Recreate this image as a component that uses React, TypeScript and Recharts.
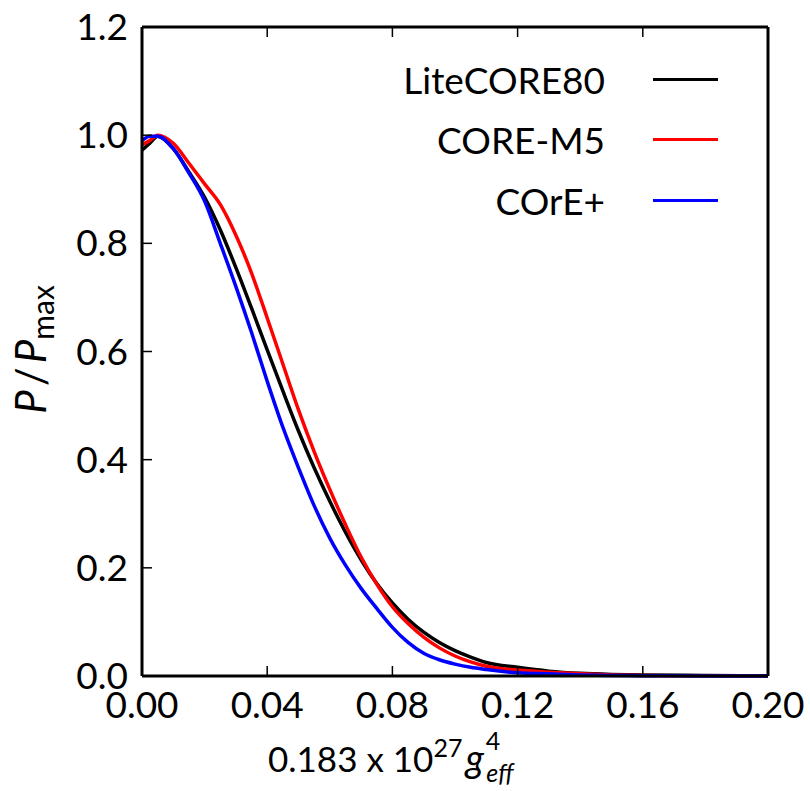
import { LineChart, Line, XAxis, YAxis, Legend, Label } from "recharts";

const xValues = [
  0, 0.0025, 0.005, 0.01, 0.015, 0.02, 0.025, 0.03, 0.035, 0.04, 0.045, 0.05,
  0.055, 0.06, 0.065, 0.07, 0.075, 0.08, 0.085, 0.09, 0.095, 0.1, 0.105, 0.11,
  0.12, 0.13, 0.14, 0.15, 0.16, 0.18, 0.2,
];

const liteCore80 = [
  0.972, 0.985, 0.998, 0.975, 0.932, 0.885, 0.825, 0.755, 0.68, 0.603, 0.527,
  0.453, 0.385, 0.323, 0.266, 0.215, 0.171, 0.135, 0.105, 0.081, 0.062, 0.047,
  0.035, 0.025, 0.016, 0.009, 0.005, 0.003, 0.002, 0.001, 0.0005,
];

const coreM5 = [
  0.982, 0.99, 1.0, 0.985, 0.948, 0.91, 0.872, 0.815, 0.745, 0.662, 0.577,
  0.492, 0.415, 0.345, 0.28, 0.22, 0.17, 0.128, 0.097, 0.072, 0.052, 0.037,
  0.026, 0.018, 0.011, 0.007, 0.004, 0.002, 0.001, 0.0005, 0.0002,
];

const corePlus = [
  0.99, 0.998, 0.998, 0.975, 0.93, 0.878, 0.8, 0.72, 0.635, 0.545, 0.46, 0.385,
  0.315, 0.255, 0.205, 0.162, 0.125, 0.09, 0.062, 0.042, 0.03, 0.022, 0.016,
  0.012, 0.006, 0.004, 0.002, 0.001, 0.0005, 0.0002, 0,
];

const seriesNames = ["LiteCORE80", "CORE-M5", "COrE+"];
const xTicks = [0, 0.04, 0.08, 0.12, 0.16, 0.2];
const yTicks = [0, 0.2, 0.4, 0.6, 0.8, 1.0, 1.2];

const data = xValues.map((x, i) => ({
  x,
  lite: liteCore80[i],
  m5: coreM5[i],
  plus: corePlus[i],
}));

const FONT = "Lato, 'DejaVu Sans', sans-serif";
const TICK_LEN = 10;
const spine = { stroke: "#000", strokeWidth: 3 };

const BottomTick = (props: any) => {
  const { x, y, payload } = props;
  return (
    <g>
      <line x1={x} x2={x} y1={y} y2={y - TICK_LEN} stroke="#000" strokeWidth={1.5} />
      <text x={x} y={y + 42} textAnchor="middle" fontFamily={FONT} fontSize={37} fill="#000">
        {Number(payload.value).toFixed(2)}
      </text>
    </g>
  );
};

const TopTick = (props: any) => {
  const { x, y } = props;
  return <line x1={x} x2={x} y1={y} y2={y + TICK_LEN} stroke="#000" strokeWidth={1.5} />;
};

const LeftTick = (props: any) => {
  const { x, y, payload } = props;
  return (
    <g>
      <line x1={x} x2={x + TICK_LEN} y1={y} y2={y} stroke="#000" strokeWidth={1.5} />
      <text x={x - 14} y={y + 13} textAnchor="end" fontFamily={FONT} fontSize={37} fill="#000">
        {Number(payload.value).toFixed(1)}
      </text>
    </g>
  );
};

const RightTick = (props: any) => {
  const { x, y } = props;
  return <line x1={x} x2={x - TICK_LEN} y1={y} y2={y} stroke="#000" strokeWidth={1.5} />;
};

const XTitle = (props: any) => {
  const vb = props.viewBox || { x: 142, y: 676 };
  return (
    <text x={vb.x + 126} y={vb.y + 96} fontFamily={FONT} fontSize={35} fill="#000">
      <tspan>0.183 x 10</tspan>
      <tspan dy={-15} fontSize={25}>27</tspan>
      <tspan dy={15} dx={3} fontSize={38} fontStyle="italic">g</tspan>
      <tspan dy={-22} dx={2} fontSize={25}>4</tspan>
      <tspan dy={32} dx={-14} fontSize={25} fontStyle="italic">eff</tspan>
    </text>
  );
};

const YTitle = (props: any) => {
  const vb = props.viewBox || { x: 0, y: 27, width: 142, height: 649 };
  const cx = 46;
  const cy = vb.y + vb.height / 2 - 2;
  return (
    <text
      x={cx}
      y={cy}
      transform={`rotate(-90, ${cx}, ${cy})`}
      textAnchor="middle"
      fontFamily={FONT}
      fontSize={42}
      fill="#000"
    >
      <tspan fontStyle="italic">P</tspan>
      <tspan dx={4}>/</tspan>
      <tspan dx={4} fontStyle="italic">P</tspan>
      <tspan dy={8} fontSize={30}>max</tspan>
    </text>
  );
};

const renderLegend = (props: any) => {
  const items = [...(props.payload || [])].sort(
    (a: any, b: any) => seriesNames.indexOf(a.value) - seriesNames.indexOf(b.value)
  );
  return (
    <div>
      {items.map((entry: any) => (
        <div
          key={entry.value}
          style={{ display: "flex", alignItems: "center", height: 60.5 }}
        >
          <span
            style={{
              width: 235,
              textAlign: "right",
              fontFamily: FONT,
              fontSize: 37,
              lineHeight: "37px",
              color: "#000",
              whiteSpace: "nowrap",
            }}
          >
            {entry.value}
          </span>
          <span
            style={{
              marginLeft: 48,
              width: 65,
              height: 3,
              background: entry.color,
            }}
          />
        </div>
      ))}
    </div>
  );
};

export default function App() {
  return (
    <div style={{ width: 810, height: 791, background: "#fff", position: "relative" }}>
      <style>{`body{margin:0;background:#fff}`}</style>
      <LineChart
        width={810}
        height={791}
        data={data}
        margin={{ top: 26, right: 41, bottom: 0, left: 0 }}
      >
        <XAxis
          dataKey="x"
          type="number"
          domain={[0, 0.2]}
          ticks={xTicks}
          interval={0}
          height={115}
          tickSize={0}
          tickMargin={0}
          tickLine={false}
          axisLine={spine}
          tick={BottomTick}
        >
          <Label content={XTitle} />
        </XAxis>
        <XAxis
          xAxisId="top"
          dataKey="x"
          type="number"
          orientation="top"
          domain={[0, 0.2]}
          ticks={xTicks}
          interval={0}
          height={1}
          tickSize={0}
          tickMargin={0}
          tickLine={false}
          axisLine={spine}
          tick={TopTick}
        />
        <YAxis
          type="number"
          domain={[0, 1.2]}
          ticks={yTicks}
          interval={0}
          width={142}
          tickSize={0}
          tickMargin={0}
          tickLine={false}
          axisLine={spine}
          tick={LeftTick}
        >
          <Label content={YTitle} />
        </YAxis>
        <YAxis
          yAxisId="right"
          orientation="right"
          type="number"
          domain={[0, 1.2]}
          ticks={yTicks}
          interval={0}
          width={1}
          tickSize={0}
          tickMargin={0}
          tickLine={false}
          axisLine={spine}
          tick={RightTick}
        />
        <Legend
          layout="vertical"
          align="center"
          verticalAlign="middle"
          content={renderLegend}
          wrapperStyle={{ top: 49, left: 370, width: 360, height: 182 }}
        />
        <Line
          type="monotone"
          dataKey="lite"
          name="LiteCORE80"
          stroke="#000000"
          strokeWidth={3.5}
          dot={false}
          isAnimationActive={false}
        />
        <Line
          type="monotone"
          dataKey="m5"
          name="CORE-M5"
          stroke="#ff0000"
          strokeWidth={3.5}
          dot={false}
          isAnimationActive={false}
        />
        <Line
          type="monotone"
          dataKey="plus"
          name="COrE+"
          stroke="#0000ff"
          strokeWidth={3.5}
          dot={false}
          isAnimationActive={false}
        />
      </LineChart>
    </div>
  );
}
